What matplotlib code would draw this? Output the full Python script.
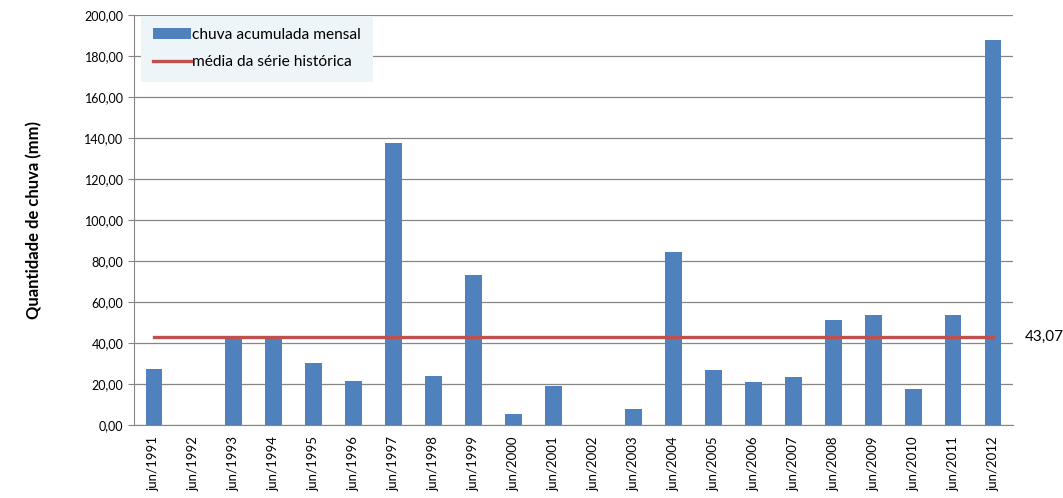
import matplotlib
matplotlib.use("Agg")
import matplotlib.pyplot as plt
import numpy as np

plt.rcParams['font.family'] = ['Lato', 'DejaVu Sans']

# monthly rainfall (june) per year
anos = [f"jun/{a}" for a in range(1991, 2013)]
chuva = [27.3, 0, 42.5, 43.0, 30.4, 21.5, 137.6, 23.9, 73.2, 5.4, 19.2,
         0, 7.8, 84.4, 26.8, 21.0, 23.3, 51.2, 53.7, 17.4, 53.6, 188.0]
media = 43.07

fig = plt.figure(figsize=(10.63, 4.98), dpi=100)
ax = fig.add_axes([0.126, 0.1466, 0.827, 0.8234])

x = np.arange(len(anos))
barras = ax.bar(x, chuva, width=0.42, color="#4f81bd", label="chuva acumulada mensal", zorder=2)
linha, = ax.plot(x, [media] * len(x), color="#c0504d", lw=2.4, label="média da série histórica", zorder=3)
ax.text(len(x) - 0.5 + 0.3, media, "43,07", fontsize=11, va="center", ha="left")

ax.set_xlim(-0.5, len(x) - 0.5)
ax.set_ylim(0, 200)
ax.set_yticks(np.arange(0, 201, 20))
ax.set_yticklabels([f"{v:.2f}".replace(".", ",") for v in np.arange(0, 201, 20)], fontsize=9)
ax.set_xticks(x)
ax.set_xticklabels(anos, rotation=90, fontsize=9.5)
ax.tick_params(axis="x", length=0, pad=8)
ax.tick_params(axis="y", length=4, color="#868686")

ax.grid(axis="y", color="#868686", lw=0.9, zorder=0)
for s in ["top", "right"]:
    ax.spines[s].set_visible(False)
for s in ["left", "bottom"]:
    ax.spines[s].set_color("#868686")

ax.set_ylabel("Quantidade de chuva (mm)", fontsize=12, fontweight="bold", labelpad=30)

leg = ax.legend([barras, linha], ["chuva acumulada mensal", "média da série histórica"],
                loc="upper left", bbox_to_anchor=(0.008, 0.998), borderaxespad=0,
                fontsize=11.2, frameon=True, fancybox=False, handlelength=2.4,
                handletextpad=0.1, borderpad=0.8, labelspacing=0.85)
leg.get_frame().set_facecolor("#eef5f8")
leg.get_frame().set_edgecolor("none")
leg.get_frame().set_alpha(1)

fig.savefig("out.png", dpi=100)
